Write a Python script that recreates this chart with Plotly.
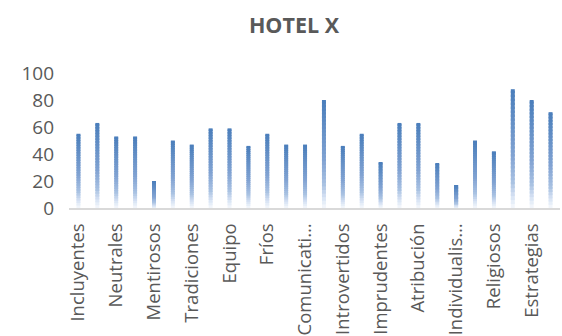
import plotly.graph_objects as go

# Scores per category (26 categories; every other one is labelled on the axis)
positions = list(range(1, 27))
values = [55, 63, 53, 53, 20, 50, 47, 59, 59, 46, 55, 47, 47,
          80, 46, 55, 34, 63, 63, 33, 17, 50, 42, 88, 80, 71]
tick_positions = list(range(1, 27, 2))
tick_labels = ["Incluyentes", "Neutrales", "Mentirosos", "Tradiciones", "Equipo",
               "Fríos", "Comunicati…", "Introvertidos", "Imprudentes", "Atribución",
               "Individualis…", "Religiosos", "Estrategias"]
y_ticks = [0, 20, 40, 60, 80, 100]

# Vertical gradient (bottom -> top) applied to each bar
stops = [(0.0, (246, 249, 253)), (0.10, (214, 226, 243)), (0.22, (168, 193, 226)),
         (0.45, (128, 162, 210)), (1.0, (74, 126, 187))]


def grad(t):
    for (t0, c0), (t1, c1) in zip(stops[:-1], stops[1:]):
        if t0 <= t <= t1:
            f = (t - t0) / (t1 - t0)
            return "rgb(%d,%d,%d)" % tuple(round(a + (b - a) * f) for a, b in zip(c0, c1))
    return "rgb(%d,%d,%d)" % stops[-1][1]


# Each bar is built from N stacked slices; every slice but the top one is
# drawn a little taller so the next slice covers the join without seams.
N = 30
fig = go.Figure()
for k in range(N):
    stretch = 1.0 if k == N - 1 else 1.6
    fig.add_trace(go.Bar(
        x=positions,
        y=[v / N * stretch for v in values],
        base=[v * k / N for v in values],
        width=0.21,
        marker=dict(color=grad((k + 0.5) / N), line=dict(width=0)),
        hoverinfo="skip",
        showlegend=False,
    ))

font = "Open Sans, DejaVu Sans, sans-serif"
fig.update_layout(
    width=562, height=336,
    margin=dict(l=69, r=2, t=73, b=128, autoexpand=False),
    paper_bgcolor="white", plot_bgcolor="white",
    barmode="overlay",
    font=dict(family=font, color="#595959"),
    title=dict(text="<b>HOTEL X</b>", x=294 / 562, xanchor="center",
               xref="container", y=1 - 25.5 / 336, yanchor="middle", yref="container",
               font=dict(size=21.5, color="#595959", family=font)),
    xaxis=dict(range=[0.5, 26.5], tickmode="array", tickvals=tick_positions,
               ticktext=tick_labels, tickangle=-90, showgrid=False,
               showline=True, linecolor="#d9d9d9", linewidth=2, ticks="",
               zeroline=False, tickfont=dict(size=18.5, color="#595959"),
               ticklabelstandoff=6, automargin=False),
    yaxis=dict(range=[0, 100], tickmode="array", tickvals=y_ticks, showgrid=False,
               zeroline=False, showline=False, ticks="",
               tickfont=dict(size=19, color="#595959"), ticklabelstandoff=14,
               automargin=False),
)

fig.write_html("out.html")
